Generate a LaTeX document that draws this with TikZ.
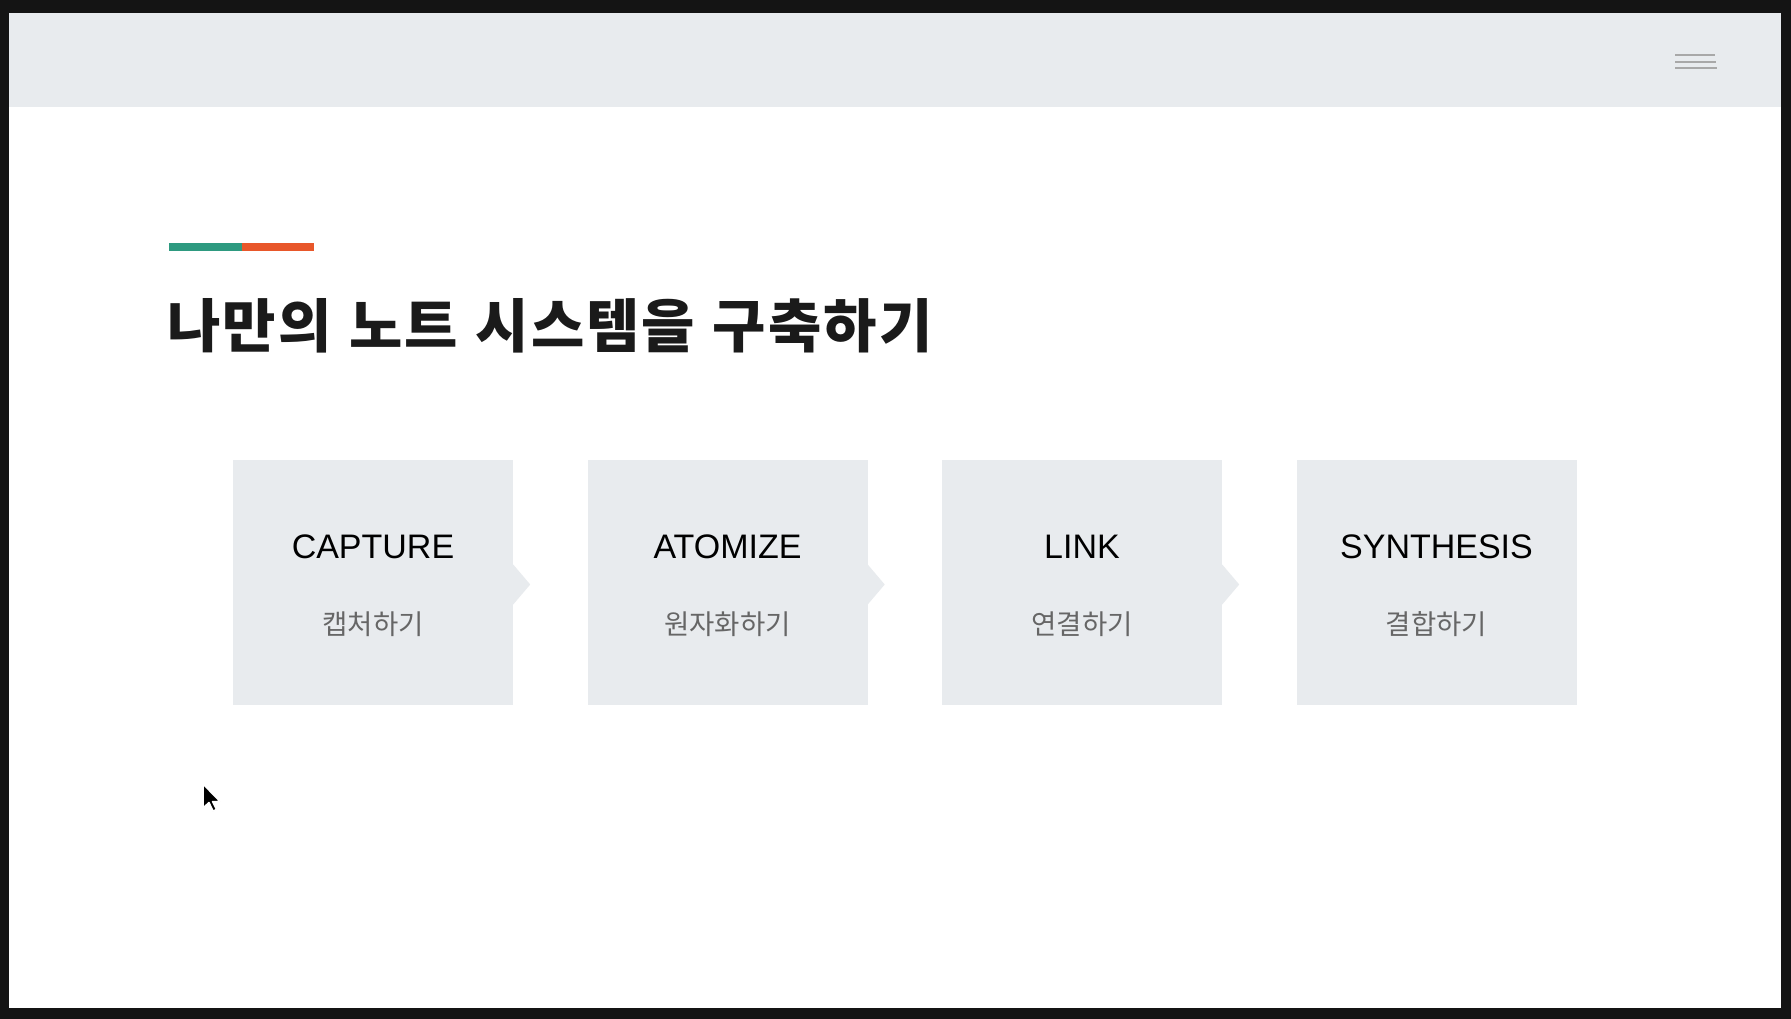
\documentclass[tikz,border=0pt]{standalone}
\usepackage{fontspec}
\setmainfont{Liberation Sans}
\newfontfamily\kr{Noto Sans CJK KR}
\newfontfamily\krtitle{Noto Sans CJK KR}[LetterSpace=3.6,WordSpace=1.15]
\usetikzlibrary{calc}
\definecolor{framecol}{HTML}{141414}
\definecolor{hdrcol}{HTML}{E8EBEE}
\definecolor{boxcol}{HTML}{E8EBEE}
\definecolor{menucol}{HTML}{A8A8A8}
\definecolor{accgreen}{HTML}{2E9A80}
\definecolor{accorange}{HTML}{E8572A}
\definecolor{titlecol}{HTML}{1A1A1A}
\definecolor{subcol}{HTML}{666666}
\tikzset{
  stepbox/.style={fill=boxcol, draw=none, minimum width=280pt, minimum height=245pt, inner sep=0},
  entext/.style={anchor=base, inner sep=0, text=black, font=\fontsize{34}{34}\selectfont},
  krtext/.style={anchor=base, inner sep=0, text=subcol, font=\kr\fontsize{27.5}{27.5}\selectfont},
  notch/.style={fill=boxcol, draw=none},
  menuline/.style={draw=menucol, line width=2pt}
}
\begin{document}
\begin{tikzpicture}[x=1pt,y=-1pt]
\useasboundingbox (0,0) rectangle (1791,1019);
\fill[framecol] (0,0) rectangle (1791,1019);
\fill[white] (9,13) rectangle (1781,1008);
\fill[hdrcol] (9,13) rectangle (1781,107);
% menu icon
\draw[menuline] (1675,55) -- (1715,55);
\draw[menuline] (1675,61.7) -- (1716,61.7);
\draw[menuline] (1675,68.3) -- (1717,68.3);
% accent line
\fill[accgreen] (169,243) rectangle (242,251);
\fill[accorange] (242,243) rectangle (314,251);
% title
\node[anchor=base west, inner sep=0, text=titlecol, font=\krtitle\bfseries\fontsize{58}{58}\selectfont] (title) at (167,347) {나만의 노트 시스템을 구축하기};
% boxes
\node[stepbox] (b1) at (373,582.5) {};
\node[stepbox] (b2) at (727.5,582.5) {};
\node[stepbox] (b3) at (1082,582.5) {};
\node[stepbox] (b4) at (1436.5,582.5) {};
\foreach \b in {b1,b2,b3}{
  \fill[notch] ($(\b.east)+(0,-18)$) -- ($(\b.east)+(17,2)$) -- ($(\b.east)+(0,22)$) -- cycle;
}
\node[entext] (t1) at (373,558) {CAPTURE};
\node[entext] (t2) at (727.5,558) {ATOMIZE};
\node[entext] (t3) at (1082,558) {LINK};
\node[entext] (t4) at (1436.5,558) {SYNTHESIS};
\node[krtext] (k1) at (373,634) {캡처하기};
\node[krtext] (k2) at (727.5,634) {원자화하기};
\node[krtext] (k3) at (1082,634) {연결하기};
\node[krtext] (k4) at (1436.5,634) {결합하기};
% mouse cursor
\filldraw[fill=black, draw=white, line width=1.5pt, line join=round]
  (203,784) -- ++(0,24) -- ++(6,-5.5) -- ++(4,8.5) -- ++(3.5,-1.5) -- ++(-4,-8) -- ++(7.5,0) -- cycle;
\end{tikzpicture}
\end{document}
